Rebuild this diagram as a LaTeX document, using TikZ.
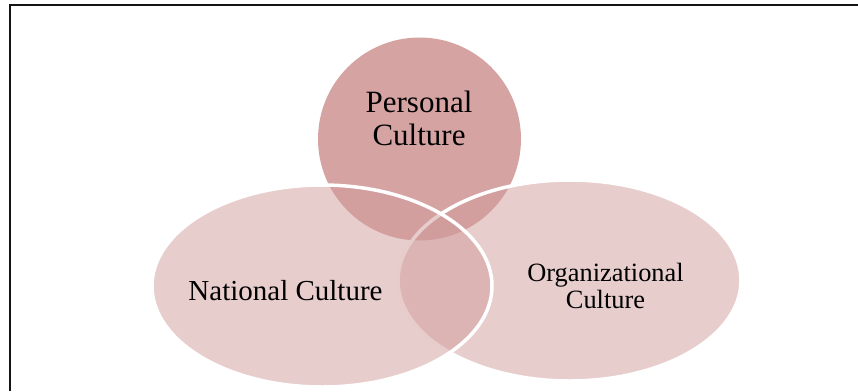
\documentclass[tikz,border=0pt]{standalone}
\usepackage{fontspec}
\setmainfont{Liberation Serif}
\usetikzlibrary{shapes.geometric}
\definecolor{personalfill}{RGB}{214,163,163}
\definecolor{setfill}{RGB}{209,155,155}
\definecolor{framecol}{RGB}{20,20,20}
\tikzset{
  setellipse/.style={ellipse, inner sep=0pt, fill=setfill, fill opacity=0.5, draw=white, draw opacity=1, line width=3.5pt},
  label/.style={inner sep=0pt, align=center, text=black}
}
\begin{document}
\begin{tikzpicture}[x=1pt,y=-1pt]
\useasboundingbox (0,0) rectangle (858,391);
\draw[framecol, line width=2pt] (10,391) -- (10,5) -- (858,5);
\node[circle, inner sep=0pt, minimum size=203pt, fill=personalfill] (personal) at (419.5,139) {};
\node[setellipse, minimum width=343pt, minimum height=201pt] (org) at (569.5,280.5) {};
\node[setellipse, minimum width=340pt, minimum height=202pt] (national) at (322,286) {};
\node[label, font=\fontsize{31}{33}\selectfont] (plabel) at (419,118) {Personal\\Culture};
\node[label, font=\fontsize{29}{31}\selectfont] (nlabel) at (285.5,291) {National Culture};
\node[label, font=\fontsize{26.4}{27}\selectfont] (olabel) at (605.5,285.5) {Organizational\\Culture};
\end{tikzpicture}
\end{document}
